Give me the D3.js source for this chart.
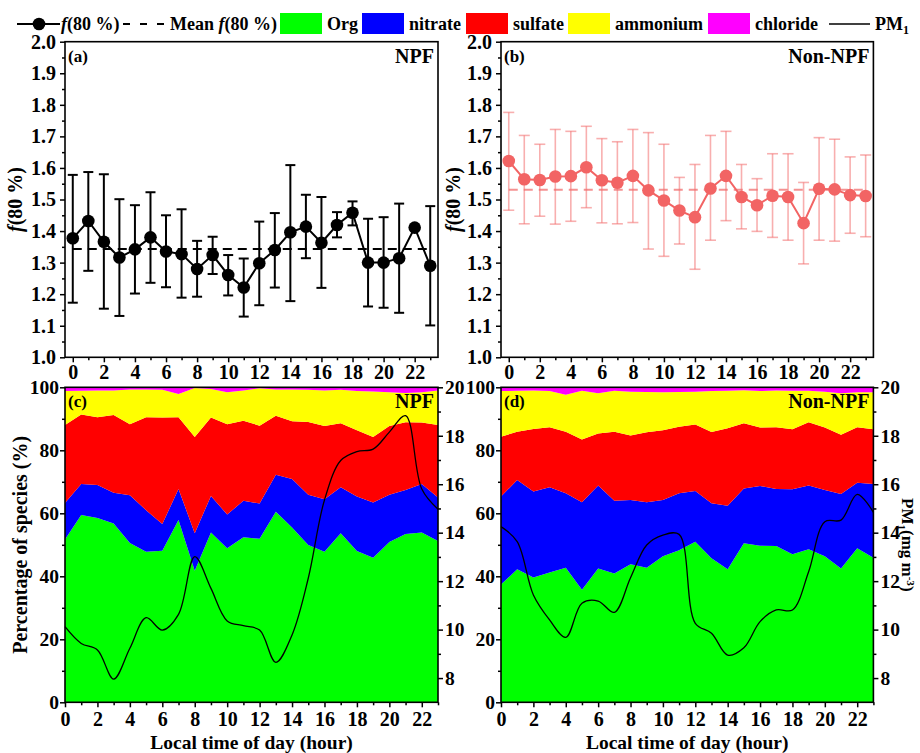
<!DOCTYPE html>
<html>
<head>
<meta charset="utf-8">
<script src="https://cdn.jsdelivr.net/npm/d3@7"></script>
<style>
  body { margin: 0; background: #fff; }
  svg text { font-family: "Liberation Serif", "Times New Roman", serif; font-weight: bold; fill: #000; }
</style>
</head>
<body>
<svg id="chart" width="920" height="753"></svg>
<script>
// ---- data: hourly diurnal means ----
const hours = [0,1,2,3,4,5,6,7,8,9,10,11,12,13,14,15,16,17,18,19,20,21,22,23];

// f(80 %) on NPF days, with upper / lower error-bar ends
const npfF80   = [1.377,1.432,1.366,1.316,1.342,1.380,1.335,1.327,1.280,1.324,1.261,1.221,1.298,1.340,1.396,1.414,1.363,1.419,1.458,1.300,1.300,1.314,1.411,1.290];
const npfF80Hi = [1.578,1.587,1.580,1.501,1.482,1.523,1.450,1.469,1.369,1.382,1.324,1.313,1.430,1.457,1.609,1.515,1.508,1.460,1.494,1.439,1.444,1.487,null,1.479];
const npfF80Lo = [1.173,1.274,1.154,1.131,1.202,1.236,1.222,1.189,1.192,1.264,1.196,1.129,1.165,1.221,1.178,1.314,1.220,1.380,1.418,1.161,1.157,1.141,null,1.101];
const npfF80Mean = 1.343;

// f(80 %) on non-NPF days
const nonF80   = [1.622,1.564,1.562,1.573,1.574,1.602,1.561,1.553,1.575,1.529,1.497,1.465,1.444,1.535,1.575,1.508,1.482,1.512,1.508,1.425,1.534,1.532,1.514,1.511];
const nonF80Hi = [1.776,1.703,1.675,1.722,1.716,1.732,1.693,1.683,1.722,1.712,1.675,1.570,1.611,1.703,1.716,1.611,1.566,1.645,1.645,1.554,1.696,1.691,1.635,1.641];
const nonF80Lo = [1.466,1.423,1.447,1.422,1.431,1.474,1.426,1.423,1.427,1.343,1.320,1.359,1.279,1.371,1.433,1.407,1.399,1.380,1.371,1.296,1.371,1.368,1.393,1.382];
const nonF80Mean = 1.531;

// chemical composition (%) on NPF days
const npfOrg      = [51.7,59.5,58.5,56.8,50.6,47.8,48.1,57.9,41.8,53.9,48.9,52.4,51.9,60.5,55.5,49.9,47.8,53.7,48.0,45.9,50.9,53.4,53.9,51.2];
const npfNitrate  = [11.6,9.8,10.5,9.7,15.1,13.2,8.5,9.8,11.9,11.6,10.7,11.6,11.2,11.7,15.4,16.0,16.7,14.6,17.3,17.5,15.0,14.0,15.4,13.8];
const npfSulfate  = [24.7,22.1,21.5,24.7,22.6,29.5,33.8,22.8,30.5,24.9,28.7,25.4,24.7,18.8,18.3,23.1,23.2,20.3,21.1,20.8,21.8,21.5,19.5,23.0];
const npfAmmonium = [10.8,7.5,8.5,7.8,11.0,8.8,8.8,7.4,15.6,9.1,10.1,9.6,11.9,8.3,10.1,10.2,11.3,10.6,12.4,14.5,10.7,9.3,9.6,11.0];
const npfChloride = [1.2,1.1,1.0,1.0,0.7,0.7,0.8,2.1,0.2,0.5,1.6,1.0,0.3,0.7,0.7,0.8,1.0,0.8,1.2,1.3,1.6,1.8,1.6,1.0];

// chemical composition (%) on non-NPF days
const nonOrg      = [37.4,42.2,39.6,41.2,42.7,35.7,42.5,40.9,43.8,42.7,46.4,48.3,51.0,45.7,42.2,50.5,49.7,49.6,47.0,48.6,46.4,42.5,48.9,45.9];
const nonNitrate  = [27.9,28.4,27.3,27.1,23.7,27.8,26.3,23.1,20.4,20.8,17.8,18.1,16.1,17.5,20.2,17.4,19.0,18.1,20.6,20.2,21.0,23.6,20.8,23.4];
const nonSulfate  = [19.0,15.3,19.9,19.0,19.5,19.9,16.5,21.9,20.5,22.2,22.2,21.1,21.1,22.6,24.6,20.7,18.5,19.6,19.1,20.1,19.8,18.8,17.6,17.4];
const nonAmmonium = [14.5,13.0,12.2,11.5,11.7,15.5,12.8,13.0,13.9,12.8,12.0,11.0,10.4,13.0,11.9,10.5,11.6,11.7,12.2,10.0,11.4,13.2,11.1,11.7];
const nonChloride = [1.2,1.1,1.0,1.2,2.4,1.1,1.9,1.1,1.4,1.5,1.6,1.5,1.4,1.2,1.1,0.9,1.2,1.0,1.1,1.1,1.4,1.9,1.6,1.6];

// PM1 mass concentration
const npfPM1 = [10.12,9.43,9.16,7.96,9.23,10.49,9.98,10.63,13.01,11.70,10.36,10.16,9.98,8.65,9.78,12.12,15.35,16.98,17.35,17.45,18.15,18.83,15.80,14.97];
const nonPM1 = [14.25,13.63,11.43,10.40,9.68,11.09,11.18,10.71,12.14,13.49,13.90,13.93,10.26,9.85,8.95,9.25,10.33,10.81,10.81,12.39,14.45,14.52,15.58,14.84];

const speciesKeys   = ["Org","nitrate","sulfate","ammonium","chloride"];
const speciesColors = ["#00FF00","#0000FF","#FF0000","#FFFF00","#FF00FF"];

// axis ticks
const f80Ticks  = [1.0,1.1,1.2,1.3,1.4,1.5,1.6,1.7,1.8,1.9,2.0];
const hourTicks = [0,2,4,6,8,10,12,14,16,18,20,22];
const pctTicks  = [0,20,40,60,80,100];
const pm1Ticks  = [8,10,12,14,16,18,20];

// ---- layout ----
const colL = {x0: 65, x1: 438};
const colR = {x0: 501, x1: 873.4};
const rowT = {y0: 41.7, y1: 357.3};
const rowB = {y0: 387.3, y1: 702.3};

const svg = d3.select("#chart");

function styleAxis(g, fs) {
  g.select(".domain").remove();
  g.attr("font-family", null).attr("font-size", fs);
  g.selectAll(".tick line").attr("stroke", "#000").attr("stroke-width", 1.5);
}

function addMinor(g, axisFn, scale, values, size) {
  const m = g.append("g").call(axisFn(scale).tickValues(values).tickSize(size).tickFormat(""));
  m.select(".domain").remove();
  m.selectAll(".tick line").attr("stroke", "#000").attr("stroke-width", 1.5);
}

function frame(col, row) {
  svg.append("rect")
    .attr("x", col.x0).attr("y", row.y0)
    .attr("width", col.x1 - col.x0).attr("height", row.y1 - row.y0)
    .attr("fill", "none").attr("stroke", "#000").attr("stroke-width", 1.6);
}

function panelText(col, row, tag, name) {
  svg.append("text").attr("x", col.x0 + 3).attr("y", row.y0 + 20)
    .attr("font-size", 17).text(tag);
  svg.append("text").attr("x", col.x1 - 4).attr("y", row.y0 + 21)
    .attr("font-size", 20).attr("text-anchor", "end").text(name);
}

function f80Title(x, y) {
  const t = svg.append("text").attr("transform", `translate(${x},${y}) rotate(-90)`)
    .attr("text-anchor", "middle").attr("font-size", 20);
  t.append("tspan").attr("font-style", "italic").text("f");
  t.append("tspan").text("(80 %)");
}

// ---- f(80 %) panels ----
function f80Panel(col, vals, hi, lo, mean, st, titleX) {
  const x = d3.scaleLinear().domain([-0.5, 23.5]).range([col.x0, col.x1]);
  const y = d3.scaleLinear().domain([1.0, 2.0]).range([rowT.y1, rowT.y0]);

  const gy = svg.append("g").attr("transform", `translate(${col.x0},0)`);
  gy.call(d3.axisLeft(y).tickValues(f80Ticks).tickSize(5).tickPadding(4).tickFormat(d3.format(".1f")));
  styleAxis(gy, 20);
  addMinor(gy, d3.axisLeft, y, f80Ticks.slice(1).map(v => v - 0.05), 3);

  const gx = svg.append("g").attr("transform", `translate(0,${rowT.y1})`);
  gx.call(d3.axisBottom(x).tickValues(hourTicks).tickSize(5).tickPadding(3));
  styleAxis(gx, 20);
  addMinor(gx, d3.axisBottom, x, hours.filter(h => h % 2 === 1), 3);

  // mean reference line
  svg.append("line")
    .attr("x1", x(0)).attr("x2", x(23))
    .attr("y1", y(mean)).attr("y2", y(mean))
    .attr("stroke", st.mean).attr("stroke-width", 2).attr("stroke-dasharray", "9,6");

  // error bars
  const eb = svg.append("g").attr("stroke", st.err).attr("stroke-width", st.errW).attr("fill", "none");
  hours.forEach((h, i) => {
    if (hi[i] == null || lo[i] == null) return;
    const cx = x(h), cw = st.cap;
    eb.append("line").attr("x1", cx).attr("x2", cx).attr("y1", y(hi[i])).attr("y2", y(lo[i]));
    eb.append("line").attr("x1", cx - cw).attr("x2", cx + cw).attr("y1", y(hi[i])).attr("y2", y(hi[i]));
    eb.append("line").attr("x1", cx - cw).attr("x2", cx + cw).attr("y1", y(lo[i])).attr("y2", y(lo[i]));
  });

  svg.append("path")
    .attr("d", d3.line().x((d, i) => x(hours[i])).y(d => y(d))(vals))
    .attr("fill", "none").attr("stroke", st.color).attr("stroke-width", 2);

  svg.append("g").selectAll("circle").data(vals).join("circle")
    .attr("cx", (d, i) => x(hours[i])).attr("cy", d => y(d))
    .attr("r", 6.3).attr("fill", st.color);

  frame(col, rowT);
  f80Title(titleX, (rowT.y0 + rowT.y1) / 2);
}

f80Panel(colL, npfF80, npfF80Hi, npfF80Lo, npfF80Mean,
  {color: "#000", err: "#000", errW: 2, cap: 5, mean: "#000"}, 22);
f80Panel(colR, nonF80, nonF80Hi, nonF80Lo, nonF80Mean,
  {color: "#F26464", err: "rgba(242,110,110,0.55)", errW: 1.6, cap: 5.5, mean: "rgba(240,110,110,0.75)"}, 460);

panelText(colL, rowT, "(a)", "NPF");
panelText(colR, rowT, "(b)", "Non-NPF");

// ---- composition + PM1 panels ----
function compPanel(col, cols, pm1) {
  const x = d3.scaleLinear().domain([0, 23]).range([col.x0, col.x1]);
  const y = d3.scaleLinear().domain([0, 100]).range([rowB.y1, rowB.y0]);
  const y2 = d3.scaleLinear().domain([7, 20]).range([rowB.y1, rowB.y0]);

  const rows = hours.map((h, i) => {
    const r = {hour: h};
    speciesKeys.forEach((k, j) => r[k] = cols[j][i]);
    return r;
  });
  const stacked = d3.stack().keys(speciesKeys)(rows);
  const area = d3.area().x(d => x(d.data.hour)).y0(d => y(d[0])).y1(d => y(d[1]));
  svg.append("g").selectAll("path").data(stacked).join("path")
    .attr("d", area).attr("fill", (d, i) => speciesColors[i]);

  svg.append("path")
    .attr("d", d3.line().curve(d3.curveCatmullRom.alpha(0.5))
      .x((d, i) => x(hours[i])).y(d => y2(d))(pm1))
    .attr("fill", "none").attr("stroke", "#000").attr("stroke-width", 1.3);

  const gy = svg.append("g").attr("transform", `translate(${col.x0},0)`);
  gy.call(d3.axisLeft(y).tickValues(pctTicks).tickSize(5).tickPadding(1));
  styleAxis(gy, 19.5);
  addMinor(gy, d3.axisLeft, y, pctTicks.slice(1).map(v => v - 10), 3);

  const gr = svg.append("g").attr("transform", `translate(${col.x1},0)`);
  gr.call(d3.axisRight(y2).tickValues(pm1Ticks).tickSize(5).tickPadding(2));
  styleAxis(gr, 19.5);
  addMinor(gr, d3.axisRight, y2, pm1Ticks.slice(1).map(v => v - 1), 3);

  const gx = svg.append("g").attr("transform", `translate(0,${rowB.y1})`);
  gx.call(d3.axisBottom(x).tickValues(hourTicks).tickSize(5).tickPadding(5));
  styleAxis(gx, 20);
  addMinor(gx, d3.axisBottom, x, hours.filter(h => h % 2 === 1), 3);

  frame(col, rowB);

  svg.append("text").attr("x", (col.x0 + col.x1) / 2).attr("y", 749)
    .attr("text-anchor", "middle").attr("font-size", 19.5).text("Local time of day (hour)");
}

compPanel(colL, [npfOrg, npfNitrate, npfSulfate, npfAmmonium, npfChloride], npfPM1);
compPanel(colR, [nonOrg, nonNitrate, nonSulfate, nonAmmonium, nonChloride], nonPM1);

panelText(colL, rowB, "(c)", "NPF");
panelText(colR, rowB, "(d)", "Non-NPF");

svg.append("text")
  .attr("transform", `translate(20,${(rowB.y0 + rowB.y1) / 2}) rotate(-90)`)
  .attr("dy", "0.35em").attr("text-anchor", "middle").attr("font-size", 20)
  .text("Percentage of species (%)");

// right-hand PM1 axis title, reading top to bottom
const pmTitle = svg.append("text")
  .attr("transform", `translate(902,${(rowB.y0 + rowB.y1) / 2}) rotate(90)`)
  .attr("text-anchor", "middle").attr("font-size", 17);
pmTitle.append("tspan").text("PM");
pmTitle.append("tspan").attr("font-size", 11).attr("dy", 4).text("1");
pmTitle.append("tspan").attr("dy", -4).text("(mg m");
pmTitle.append("tspan").attr("font-size", 11).attr("dy", -5).text("-3");
pmTitle.append("tspan").attr("dy", 5).text(")");

// ---- legend ----
const lg = svg.append("g");
const LY = 24, LB = 30;
lg.append("line").attr("x1", 17).attr("x2", 60).attr("y1", LY).attr("y2", LY).attr("stroke", "#000").attr("stroke-width", 2);
lg.append("circle").attr("cx", 39).attr("cy", LY).attr("r", 6.3).attr("fill", "#000");
const t1 = lg.append("text").attr("x", 61).attr("y", LB).attr("font-size", 18);
t1.append("tspan").attr("font-style", "italic").text("f");
t1.append("tspan").text("(80 %)");
lg.append("line").attr("x1", 123).attr("x2", 164).attr("y1", LY).attr("y2", LY)
  .attr("stroke", "#000").attr("stroke-width", 2).attr("stroke-dasharray", "7,10");
const t2 = lg.append("text").attr("x", 170).attr("y", LB).attr("font-size", 18);
t2.append("tspan").text("Mean ");
t2.append("tspan").attr("font-style", "italic").text("f");
t2.append("tspan").text("(80 %)");

const swatchX = [280, 362, 466, 568, 708];
speciesKeys.forEach((k, i) => {
  lg.append("rect").attr("x", swatchX[i]).attr("y", 13).attr("width", 42).attr("height", 21)
    .attr("fill", speciesColors[i]);
  lg.append("text").attr("x", swatchX[i] + 47).attr("y", LB).attr("font-size", 18).text(k);
});
lg.append("line").attr("x1", 829).attr("x2", 870).attr("y1", LY).attr("y2", LY).attr("stroke", "#000").attr("stroke-width", 1.3);
const t3 = lg.append("text").attr("x", 875).attr("y", LB).attr("font-size", 18);
t3.append("tspan").text("PM");
t3.append("tspan").attr("font-size", 12).attr("dy", 4).text("1");
</script>
</body>
</html>
